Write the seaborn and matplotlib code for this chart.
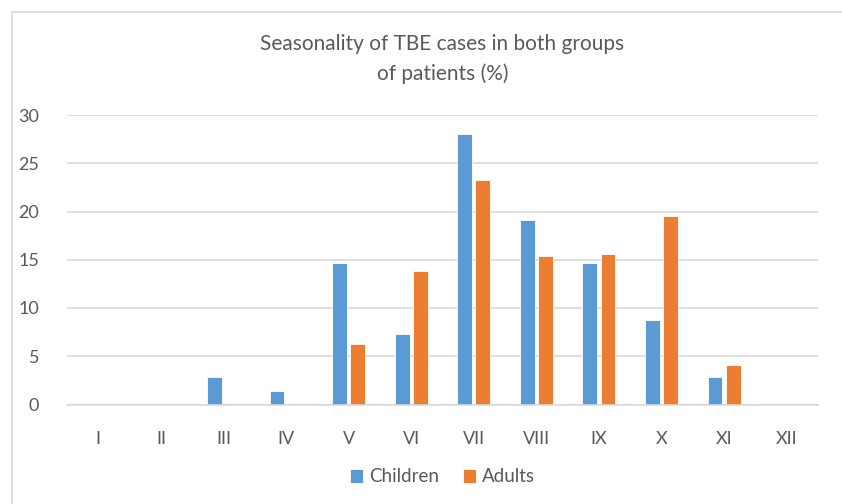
import matplotlib
matplotlib.use("Agg")
import matplotlib.pyplot as plt
import seaborn as sns
import pandas as pd
from matplotlib.lines import Line2D

# Data
months = ["I", "II", "III", "IV", "V", "VI", "VII", "VIII", "IX", "X", "XI", "XII"]
children = [0, 0, 2.9, 1.4, 14.7, 7.3, 28.0, 19.1, 14.7, 8.8, 2.9, 0]
adults = [0, 0, 0, 0, 6.3, 13.8, 23.3, 15.4, 15.6, 19.5, 4.1, 0]

df = pd.DataFrame({
    "month": months * 2,
    "value": children + adults,
    "group": ["Children"] * len(months) + ["Adults"] * len(months),
})

sns.set_style("white")
plt.rcParams['font.family'] = ['Lato', 'DejaVu Sans']
text_color = '#595959'

W, H = 842, 504
fig = plt.figure(figsize=(W / 100, H / 100), dpi=100)
ax = fig.add_axes([67 / W, (H - 404.5) / H, 751 / W, 289.5 / H])

# outer chart border (left and top edges only visible)
border = dict(transform=fig.transFigure, color='#d9d9d9', linewidth=1.2)
fig.lines.append(Line2D([11.5 / W, 11.5 / W], [0, (H - 12) / H], **border))
fig.lines.append(Line2D([11.5 / W, 1], [(H - 12) / H, (H - 12) / H], **border))

sns.barplot(data=df, x="month", y="value", hue="group", order=months,
            hue_order=["Children", "Adults"],
            palette={"Children": "#5B9BD5", "Adults": "#ED7D31"},
            width=0.58, gap=0.18, ax=ax, edgecolor='white', linewidth=0.6,
            saturation=1)

ax.set_ylim(0, 30)
ax.set_xlim(-0.5, 11.5)
ax.set_yticks(range(0, 31, 5))
ax.yaxis.grid(True, color='#d9d9d9', linewidth=1.2)
ax.set_axisbelow(True)
for s in ['top', 'right', 'left']:
    ax.spines[s].set_visible(False)
ax.spines['bottom'].set_color('#d9d9d9')
ax.spines['bottom'].set_linewidth(1.2)
ax.tick_params(axis='both', length=0, labelsize=13, colors=text_color)
ax.tick_params(axis='y', pad=20)
ax.tick_params(axis='x', pad=19)
ax.set_xlabel('')
ax.set_ylabel('')

fig.text((67 + 818) / 2 / W, (H - 59) / H,
         "Seasonality of TBE cases in both groups\nof patients (%)",
         ha='center', va='center', fontsize=15, color=text_color,
         linespacing=1.55)

ax.legend(loc='center', bbox_to_anchor=(0.5, (404.5 - 477) / 289.5),
          ncol=2, frameon=False, fontsize=13.5, handlelength=0.7,
          handleheight=0.7, handletextpad=0.3, columnspacing=1.3,
          labelcolor=text_color)

fig.savefig("out.png", dpi=100)
